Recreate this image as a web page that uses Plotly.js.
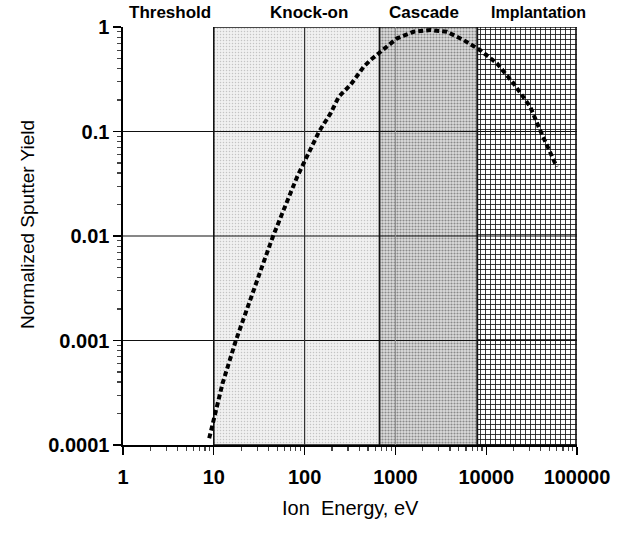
<!DOCTYPE html>
<html>
<head>
<meta charset="utf-8">
<script src="https://cdn.plot.ly/plotly-3.0.1.min.js"></script>
<style>
  html, body { margin: 0; padding: 0; background: #fff; }
  #plot { width: 619px; height: 537px; }
</style>
</head>
<body>
<div id="plot"></div>
<script>
// regions along the energy axis (eV)
var regionNames = ["Threshold", "Knock-on", "Cascade", "Implantation"];
var regionStart = [1, 10, 670, 8000];
var regionEnd = [10, 670, 8000, 100000];

// dashed curve
var energy = [8.9, 12.5, 17.5, 25.5, 34, 45, 59, 70, 83, 98, 144, 193, 238, 320, 448, 531, 684,
              1044, 1585, 2430, 3700, 5630, 8590, 13100, 19950, 30500, 39200, 59800];
var yieldVals = [0.000116, 0.00039, 0.001, 0.0026, 0.0051, 0.01, 0.0184, 0.0258, 0.037, 0.0496,
                 0.0996, 0.149, 0.215, 0.279, 0.417, 0.483, 0.58,
                 0.78, 0.90, 0.936, 0.90, 0.75, 0.60, 0.45, 0.289, 0.173, 0.103, 0.046];

var xTicks = [1, 10, 100, 1000, 10000, 100000];
var xTickText = ["1", "10", "100", "1000", "10000", "100000"];
var yTicks = [0.0001, 0.001, 0.01, 0.1, 1];
var yTickText = ["0.0001", "0.001", "0.01", "0.1", "1"];

var yMin = yTicks[0], yMax = yTicks[yTicks.length - 1];
var xMin = xTicks[0], xMax = xTicks[xTicks.length - 1];

var fills = [
  null,
  {shape: ".", fgcolor: "#c4c4c4", bgcolor: "#f1f1f1", size: 3, solidity: 0.2},
  {shape: ".", fgcolor: "#8a8a8a", bgcolor: "#dcdcdc", size: 3, solidity: 0.4},
  {shape: "+", fgcolor: "#111111", bgcolor: "#ffffff", size: 5, solidity: 0.3}
];

var data = [];
for (var i = 1; i < regionNames.length; i++) {
  data.push({
    x: [regionStart[i], regionStart[i], regionEnd[i], regionEnd[i], regionStart[i]],
    y: [yMin, yMax, yMax, yMin, yMin],
    mode: "lines",
    fill: "toself",
    fillcolor: fills[i].bgcolor,
    fillpattern: fills[i],
    line: {color: "#111", width: 1.6},
    hoverinfo: "skip",
    showlegend: false
  });
}

// grid lines drawn over the shaded regions
for (var j = 1; j < yTicks.length - 1; j++) {
  data.push({
    x: [xMin, xMax], y: [yTicks[j], yTicks[j]],
    mode: "lines", line: {color: "#111", width: 1.2},
    hoverinfo: "skip", showlegend: false
  });
}
data.push({
  x: [xTicks[2], xTicks[2]], y: [yMin, yMax],
  mode: "lines", line: {color: "#333", width: 1.2},
  hoverinfo: "skip", showlegend: false
});
data.push({
  x: [xTicks[3], xTicks[3]], y: [yMin, yMax],
  mode: "lines", line: {color: "#888", width: 1},
  hoverinfo: "skip", showlegend: false
});

data.push({
  x: energy, y: yieldVals,
  mode: "lines",
  line: {color: "#000", width: 4, dash: "5px,3px"},
  showlegend: false
});

var L = 123, R = 42, T = 27, B = 92;
var W = 619 - L - R, H = 537 - T - B;
function px(x) { return (x - L) / W; }
function py(y) { return (537 - B - y) / H; }

var labelX = [169.5, 309, 424, 538];
var labelSize = [17, 17, 17, 16];
var annotations = [];
for (var k = 0; k < regionNames.length; k++) {
  annotations.push({
    text: "<b>" + regionNames[k] + "</b>",
    xref: "paper", yref: "paper", x: px(labelX[k]), y: py(13),
    xanchor: "center", yanchor: "middle", showarrow: false,
    font: {family: "Liberation Sans, Arial, sans-serif", size: labelSize[k], color: "#000"}
  });
}
annotations.push({
  text: "Normalized Sputter Yield",
  xref: "paper", yref: "paper", x: px(27), y: py(225), textangle: -90,
  xanchor: "center", yanchor: "middle", showarrow: false,
  font: {family: "Liberation Sans, Arial, sans-serif", size: 19, color: "#000"}
});
annotations.push({
  text: "Ion \u00a0Energy, eV",
  xref: "paper", yref: "paper", x: px(350), y: py(508),
  xanchor: "center", yanchor: "middle", showarrow: false,
  font: {family: "Liberation Sans, Arial, sans-serif", size: 20, color: "#000"}
});

var layout = {
  width: 619, height: 537,
  margin: {l: L, r: R, t: T, b: B},
  paper_bgcolor: "#fff", plot_bgcolor: "#fff",
  font: {family: "Liberation Sans, Arial, sans-serif", color: "#000"},
  xaxis: {
    type: "log", range: [0, 5],
    tickvals: xTicks, ticktext: xTickText,
    tickfont: {size: 20, weight: "bold"},
    ticks: "outside", ticklen: 8, tickwidth: 1.2, tickcolor: "#000",
    ticklabelstandoff: 5,
    minor: {ticks: "outside", ticklen: 4, tickcolor: "#444", showgrid: false, dtick: "D1"},
    showline: true, linecolor: "#000", linewidth: 1.6,
    showgrid: false, zeroline: false
  },
  yaxis: {
    type: "log", range: [-4, 0],
    tickvals: yTicks, ticktext: yTickText,
    tickfont: {size: 20, weight: "bold"},
    ticks: "outside", ticklen: 8, tickwidth: 1.2, tickcolor: "#000",
    minor: {ticks: "outside", ticklen: 4, tickcolor: "#444", showgrid: false, dtick: "D1"},
    showline: true, linecolor: "#000", linewidth: 1.6,
    showgrid: false, zeroline: false
  },
  annotations: annotations
};

Plotly.newPlot("plot", data, layout, {displayModeBar: false, staticPlot: true});
</script>
</body>
</html>
